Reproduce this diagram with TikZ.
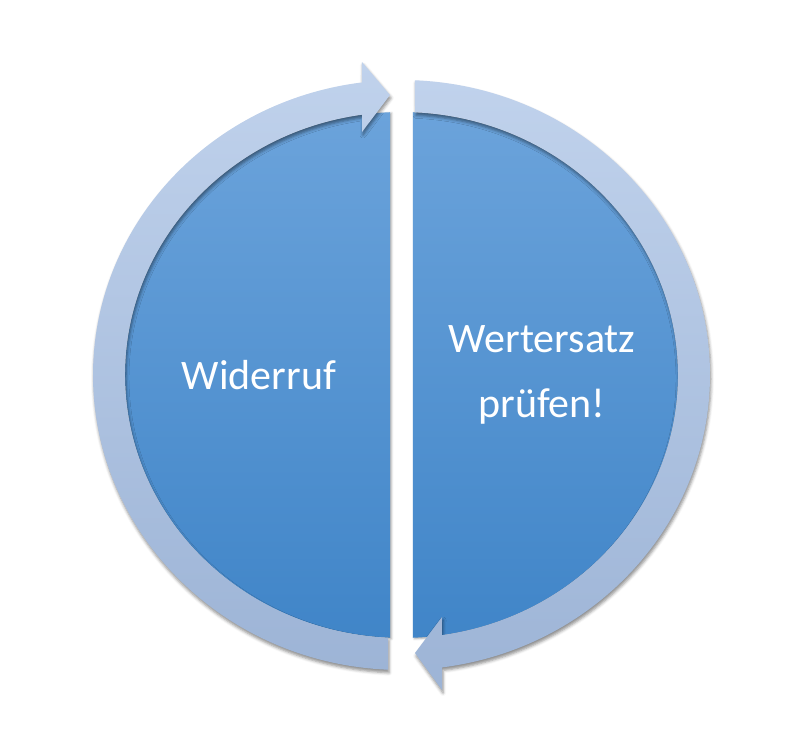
\documentclass[tikz,border=0pt]{standalone}
\usepackage{fontspec}
\setmainfont{Carlito}
\usetikzlibrary{calc,shadows.blur}
\definecolor{ringtop}{HTML}{C0D2EC}
\definecolor{ringbot}{HTML}{9DB4D6}
\definecolor{disktop}{HTML}{6BA3DB}
\definecolor{diskbot}{HTML}{4085C8}
\tikzset{
  ringarrow/.style={top color=ringtop, bottom color=ringbot, draw=none,
    blur shadow={shadow xshift=1pt, shadow yshift=-3pt, shadow blur radius=3pt, shadow opacity=45}},
  halfdisk/.style={top color=disktop, bottom color=diskbot, draw=none,
    blur shadow={shadow xshift=1.5pt, shadow yshift=-1pt, shadow blur radius=2pt, shadow opacity=35}},
  label/.style={text=white, font=\fontsize{42}{65}\selectfont, align=center}
}
\begin{document}
\begin{tikzpicture}[x=1pt,y=1pt]
\useasboundingbox (0,0) rectangle (798,753);
\coordinate (c) at (401.5,378);
% half disks
\shade[halfdisk] ($(c)+(92.38:276.5 and 263)$)
  arc[start angle=92.38, end angle=267.62, x radius=276.5, y radius=263] -- cycle;
\shade[halfdisk] ($(c)+(-87.62:276.5 and 263)$)
  arc[start angle=-87.62, end angle=87.62, x radius=276.5, y radius=263] -- cycle;
% left ring arrow (bottom -> left -> top, head pointing right)
\coordinate (lht) at (362,691);
\coordinate (ltip) at (390,658);
\coordinate (lhb) at (362,621);
\shade[ringarrow] ($(c)+(267.5:308.5 and 295)$)
  arc[start angle=267.5, end angle=97.4, x radius=308.5, y radius=295]
  -- (lht) -- (ltip) -- (lhb)
  -- ($(c)+(98.2:276.5 and 263)$)
  arc[start angle=98.2, end angle=267.2, x radius=276.5, y radius=263] -- cycle;
% right ring arrow (top -> right -> bottom, head pointing left)
\coordinate (rho) at (442,63);
\coordinate (rtip) at (415,100);
\coordinate (rhi) at (442,136);
\shade[ringarrow] ($(c)+(87.5:308.5 and 295)$)
  arc[start angle=87.5, end angle=-82.45, x radius=308.5, y radius=295]
  -- (rho) -- (rtip) -- (rhi)
  -- ($(c)+(-81.6:276.5 and 263)$)
  arc[start angle=-81.6, end angle=87.2, x radius=276.5, y radius=263] -- cycle;
% texts
\node[label] (widerruf) at (259,378) {Widerruf};
\node[label] (wertersatz) at (542,378) {Wertersatz\\prüfen!};
\end{tikzpicture}
\end{document}
